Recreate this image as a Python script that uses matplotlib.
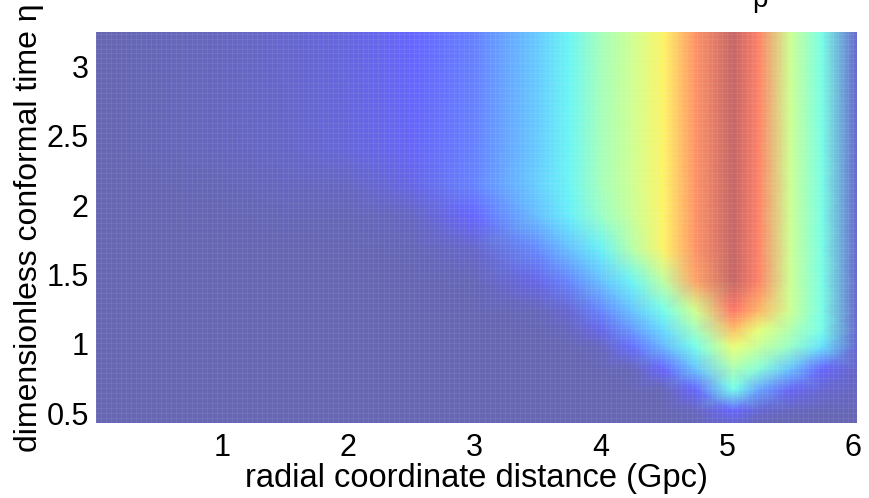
import numpy as np
import matplotlib
matplotlib.use('Agg')
from matplotlib import pyplot as plt
from matplotlib.colors import ListedColormap

# grid nodes
r_nodes = [0.0, 1.0, 1.5, 2.0, 2.5, 3.0, 3.5, 3.75, 4.0, 4.25, 4.5, 4.75,
           5.05, 5.25, 5.5, 5.75, 6.03]
eta_nodes = [0.43, 0.52, 0.67, 0.82, 0.98, 1.1, 1.24, 1.45, 1.68, 1.92,
             2.15, 2.4, 3.25]

# normalised field value (0 = bottom of colour scale, 1 = top), one row per eta node
z_rows = [
    [0, 0, 0, 0, 0, 0, 0, 0, 0, 0, 0, 0.01, 0.05, 0.01, 0, 0, 0],
    [0, 0, 0, 0, 0, 0, 0, 0, 0, 0, 0.005, 0.02, 0.125, 0.05, 0.02, 0.01, 0.01],
    [0, 0, 0, 0, 0, 0, 0, 0, 0, 0.005, 0.01, 0.11, 0.375, 0.23, 0.10, 0.05, 0.02],
    [0, 0, 0, 0, 0, 0, 0, 0, 0.005, 0.015, 0.125, 0.28, 0.49, 0.42, 0.28, 0.12, 0.03],
    [0, 0, 0, 0, 0, 0, 0, 0.005, 0.02, 0.14, 0.26, 0.38, 0.62, 0.545, 0.45, 0.33, 0.04],
    [0, 0, 0, 0, 0, 0, 0.005, 0.02, 0.08, 0.21, 0.32, 0.47, 0.75, 0.61, 0.50, 0.38, 0.04],
    [0, 0, 0, 0, 0, 0.005, 0.015, 0.05, 0.177, 0.28, 0.38, 0.57, 0.88, 0.77, 0.56, 0.39, 0.04],
    [0, 0, 0, 0, 0.005, 0.01, 0.08, 0.177, 0.27, 0.36, 0.53, 0.80, 0.97, 0.86, 0.56, 0.39, 0.04],
    [0, 0, 0, 0.005, 0.01, 0.036, 0.186, 0.27, 0.355, 0.51, 0.66, 0.83, 0.97, 0.86, 0.56, 0.39, 0.04],
    [0, 0.005, 0.01, 0.01, 0.025, 0.117, 0.27, 0.35, 0.45, 0.55, 0.66, 0.83, 0.97, 0.86, 0.56, 0.39, 0.04],
    [0, 0.01, 0.02, 0.025, 0.078, 0.174, 0.30, 0.36, 0.48, 0.56, 0.66, 0.83, 0.97, 0.86, 0.56, 0.39, 0.04],
    [0, 0.02, 0.035, 0.06, 0.10, 0.17, 0.29, 0.36, 0.48, 0.56, 0.66, 0.83, 0.97, 0.86, 0.56, 0.39, 0.04],
    [0, 0.02, 0.04, 0.07, 0.11, 0.17, 0.29, 0.36, 0.48, 0.56, 0.66, 0.83, 0.97, 0.86, 0.56, 0.39, 0.04],
]

x_ticks = [1, 2, 3, 4, 5, 6]
y_ticks = [0.5, 1, 1.5, 2, 2.5, 3]
y_tick_labels = ['0.5', '1', '1.5', '2', '2.5', '3']


def main():
    plt.rcParams['font.family'] = ['Liberation Sans', 'DejaVu Sans']
    fig = plt.figure(figsize=(8.7, 4.98), dpi=100)
    ax = fig.add_axes([0.110, 0.151, 0.875, 0.785])

    # jet seen through 60% opacity on white
    jet = plt.get_cmap('jet')(np.linspace(0, 1, 256))[:, :3]
    cmap = ListedColormap(0.4 + 0.6 * jet)

    R, E = np.meshgrid(r_nodes, eta_nodes)
    Z = np.array(z_rows)
    ax.pcolormesh(R, E, Z, shading='gouraud', cmap=cmap, vmin=0, vmax=1,
                  rasterized=True)

    # faint mesh texture of the original surface
    ax.vlines(np.arange(0, 6.03, 0.04), 0.43, 3.25, color='white', lw=0.4, alpha=0.12)
    ax.hlines(np.arange(0.43, 3.25, 0.036), 0, 6.03, color='white', lw=0.4, alpha=0.12)

    ax.set_xlim(r_nodes[0], r_nodes[-1])
    ax.set_ylim(eta_nodes[0], eta_nodes[-1])
    ax.set_xticks(x_ticks)
    ax.set_yticks(y_ticks)
    ax.set_yticklabels(y_tick_labels)
    ax.tick_params(length=0, labelsize=22)
    ax.tick_params(axis='x', pad=7)
    ax.tick_params(axis='y', pad=5)
    for s in ax.spines.values():
        s.set_visible(False)

    ax.set_xlabel('radial coordinate distance (Gpc)', fontsize=23.5, labelpad=0)
    ax.set_ylabel('dimensionless conformal time η', fontsize=23, labelpad=2)

    # title cut off at the top of the picture
    fig.text(0.873, 1 - 7 / 498, 'p', fontsize=20, ha='center', va='baseline')

    fig.savefig('out.png', dpi=100)


if __name__ == '__main__':
    main()
